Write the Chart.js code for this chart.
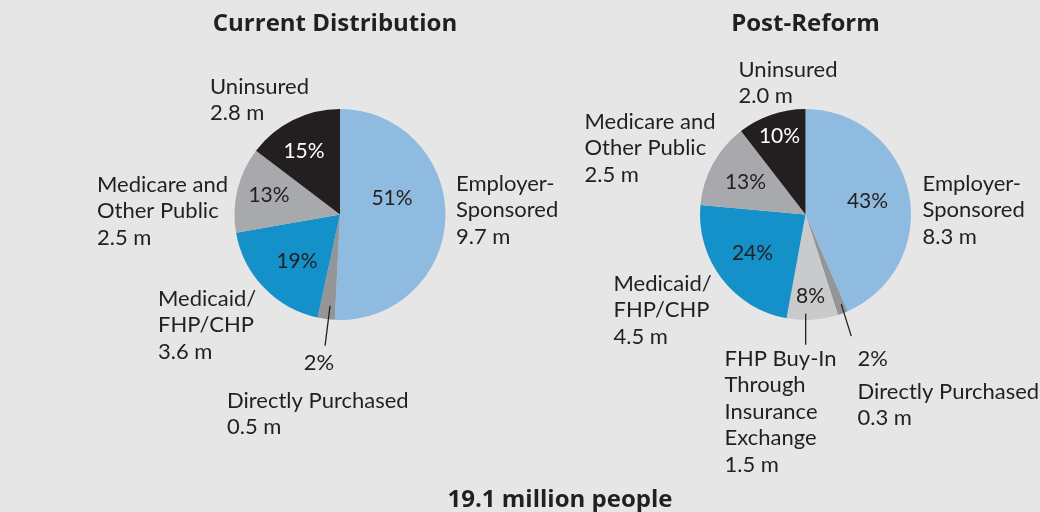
<!DOCTYPE html>
<html>
<head>
<meta charset="utf-8">
<script src="https://cdn.jsdelivr.net/npm/chart.js@4.4.1/dist/chart.umd.min.js"></script>
<style>
  html, body { margin: 0; padding: 0; background: #e6e6e6; }
  #wrap { position: relative; width: 1040px; height: 512px; background: #e6e6e6; overflow: hidden; }
  canvas { position: absolute; top: 0; left: 0; }
  #total { position: absolute; left: 360px; width: 400px; top: 484px; text-align: center;
           font: bold 24px "Open Sans", Lato, sans-serif; color: #231f20; line-height: 28px; }
</style>
</head>
<body>
<div id="wrap">
  <canvas id="c1" width="1040" height="512"></canvas>
  <canvas id="c2" width="1040" height="512"></canvas>
  <div id="total">19.1 million people</div>
</div>
<script>
// ---- data ----
const chartTitles = ["Current Distribution", "Post-Reform"];
const currentCategories = ["Employer-Sponsored", "Directly Purchased", "Medicaid/FHP/CHP", "Medicare and Other Public", "Uninsured"];
const currentValues = [9.7, 0.5, 3.6, 2.5, 2.8];
const currentPercents = ["51%", "2%", "19%", "13%", "15%"];
const reformCategories = ["Employer-Sponsored", "Directly Purchased", "FHP Buy-In Through Insurance Exchange", "Medicaid/FHP/CHP", "Medicare and Other Public", "Uninsured"];
const reformValues = [8.3, 0.3, 1.5, 4.5, 2.5, 2.0];
const reformPercents = ["43%", "2%", "8%", "24%", "13%", "10%"];
const totalLabel = "19.1 million people";

// ---- styles ----
const INK = "#231f20";
const colorFor = {
  "Employer-Sponsored": "#8fbbe0",
  "Directly Purchased": "#939598",
  "FHP Buy-In Through Insurance Exchange": "#c9cacc",
  "Medicaid/FHP/CHP": "#1591c9",
  "Medicare and Other Public": "#a8a9ac",
  "Uninsured": INK
};
const FONT = 'Lato, "DejaVu Sans", sans-serif';
const TITLE_FONT = 'bold 24px "Open Sans", Lato, sans-serif';
const LABEL_FONT = '22px ' + FONT;
const PCT_FONT = '21px ' + FONT;
const LINE_H = 26.5;

// label layout (offsets relative to pie centre)
const layout1 = {
  title: { dx: -5, dy: -190 },
  pct: [ {dx: 52, dy: -16}, null, {dx: -43, dy: 47}, {dx: -71, dy: -19}, {dx: -36, dy: -63} ],
  outer: [
    { lines: ["Employer-", "Sponsored", "9.7 m"], dx: 116, dy: -31 },
    { lines: ["2%"], dx: -21, dy: 148, center: true },
    { lines: ["Medicaid/", "FHP/CHP", "3.6 m"], dx: -182, dy: 84 },
    { lines: ["Medicare and", "Other Public", "2.5 m"], dx: -243, dy: -30 },
    { lines: ["Uninsured", "2.8 m"], dx: -130, dy: -128 },
    { lines: ["Directly Purchased", "0.5 m"], dx: -113, dy: 186 }
  ],
  leaders: [ { slice: 1, t: 0.36, rf: 0.87, dx: -5, dy: 40 } ]
};
const layout2 = {
  title: { dx: 0, dy: -190 },
  pct: [ {dx: 62, dy: -13}, null, {dx: 5, dy: 82}, {dx: -53, dy: 39}, {dx: -60, dy: -32}, {dx: -26, dy: -78} ],
  outer: [
    { lines: ["Employer-", "Sponsored", "8.3 m"], dx: 117, dy: -31 },
    { lines: ["2%"], dx: 52, dy: 144 },
    { lines: ["FHP Buy-In", "Through", "Insurance", "Exchange", "1.5 m"], dx: -81, dy: 144 },
    { lines: ["Medicaid/", "FHP/CHP", "4.5 m"], dx: -192, dy: 69 },
    { lines: ["Medicare and", "Other Public", "2.5 m"], dx: -221, dy: -93 },
    { lines: ["Uninsured", "2.0 m"], dx: -67, dy: -145 },
    { lines: ["Directly Purchased", "0.3 m"], dx: 52, dy: 177 }
  ],
  leaders: [ { slice: 2, t: 0.63, rf: 0.94, dx: 0, dy: 31 }, { slice: 1, t: 0.32, rf: 0.915, dx: 10, dy: 32 } ]
};

const labelPlugin = {
  id: "pieLabels",
  afterDraw(chart, args, opts) {
    const ctx = chart.ctx;
    const arcs = chart.getDatasetMeta(0).data;
    const cx = arcs[0].x, cy = arcs[0].y, R = arcs[0].outerRadius;
    const L = opts.layout;
    ctx.save();
    ctx.fillStyle = INK;
    ctx.font = TITLE_FONT;
    ctx.textAlign = "center";
    ctx.textBaseline = "middle";
    ctx.fillText(opts.title, cx + L.title.dx, cy + L.title.dy);
    ctx.font = PCT_FONT;
    opts.percents.forEach((p, i) => {
      const pos = L.pct[i];
      if (!pos) return;
      ctx.fillStyle = opts.categories[i] === "Uninsured" ? "#ffffff" : INK;
      ctx.fillText(p, cx + pos.dx, cy + pos.dy);
    });
    ctx.fillStyle = INK;
    ctx.font = LABEL_FONT;
    L.outer.forEach(o => {
      ctx.textAlign = o.center ? "center" : "left";
      o.lines.forEach((ln, k) => ctx.fillText(ln, cx + o.dx, cy + o.dy + k * LINE_H));
    });
    ctx.strokeStyle = INK;
    ctx.lineWidth = 1.3;
    L.leaders.forEach(ld => {
      const a = arcs[ld.slice];
      const ang = a.startAngle + (a.endAngle - a.startAngle) * ld.t;
      const x1 = cx + Math.cos(ang) * R * ld.rf;
      const y1 = cy + Math.sin(ang) * R * ld.rf;
      ctx.beginPath();
      ctx.moveTo(x1, y1);
      ctx.lineTo(x1 + ld.dx, y1 + ld.dy);
      ctx.stroke();
    });
    ctx.restore();
  }
};

function makePie(id, cats, vals, pcts, title, layout, padding) {
  return new Chart(document.getElementById(id), {
    type: "pie",
    data: {
      labels: cats,
      datasets: [{
        data: vals,
        backgroundColor: cats.map(c => colorFor[c]),
        borderWidth: 0,
        hoverOffset: 0,
        offset: 0
      }]
    },
    options: {
      responsive: false,
      animation: false,
      devicePixelRatio: 1,
      layout: { padding: padding },
      events: [],
      plugins: {
        legend: { display: false },
        tooltip: { enabled: false },
        title: { display: false },
        pieLabels: { title: title, percents: pcts, categories: cats, layout: layout }
      }
    },
    plugins: [labelPlugin]
  });
}

makePie("c1", currentCategories, currentValues, currentPercents, chartTitles[0], layout1,
        { left: 234.5, right: 594.5, top: 109, bottom: 192 });
makePie("c2", reformCategories, reformValues, reformPercents, chartTitles[1], layout2,
        { left: 700, right: 129, top: 109, bottom: 192 });
document.getElementById("total").textContent = totalLabel;
</script>
</body>
</html>
